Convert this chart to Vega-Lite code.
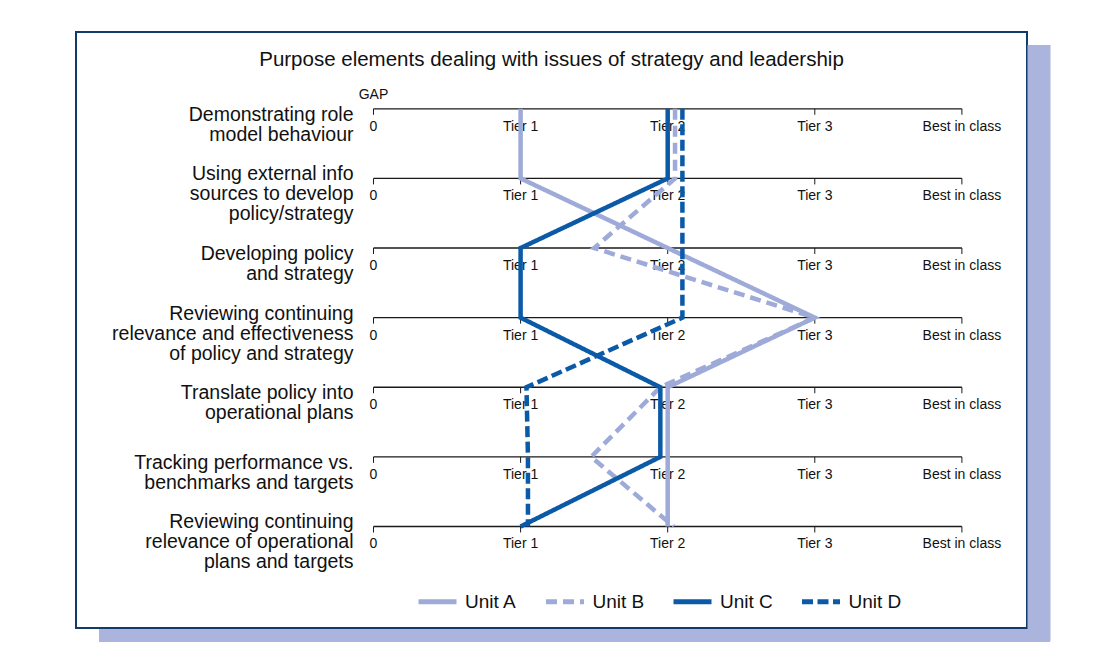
{
  "$schema": "https://vega.github.io/schema/vega-lite/v6.json",
  "width": 951,
  "height": 596,
  "autosize": {"type": "none"},
  "padding": {"left": 76, "top": 32, "right": 91, "bottom": 33},
  "background": "white",
  "config": {
    "font": "Liberation Sans",
    "view": {"stroke": "#123a6b", "strokeWidth": 2, "fill": "white"}
  },
  "title": {
    "text": "Purpose elements dealing with issues of strategy and leadership",
    "fontSize": 20.5,
    "fontWeight": "normal",
    "font": "Liberation Sans",
    "color": "#111111",
    "anchor": "middle",
    "offset": -38
  },
  "datasets": {
    "rows": [
      {"r": 1, "n": 2, "label": "Demonstrating role\nmodel behaviour"},
      {"r": 2, "n": 3, "label": "Using external info\nsources to develop\npolicy/strategy"},
      {"r": 3, "n": 2, "label": "Developing policy\nand strategy"},
      {"r": 4, "n": 3, "label": "Reviewing continuing\nrelevance and effectiveness\nof policy and strategy"},
      {"r": 5, "n": 2, "label": "Translate policy into\noperational plans"},
      {"r": 6, "n": 2, "label": "Tracking performance vs.\nbenchmarks and targets"},
      {"r": 7, "n": 3, "label": "Reviewing continuing\nrelevance of operational\nplans and targets"}
    ],
    "ticks": [
      {"r": 1, "tv": 0, "tl": "0"}, {"r": 1, "tv": 1, "tl": "Tier 1"}, {"r": 1, "tv": 2, "tl": "Tier 2"}, {"r": 1, "tv": 3, "tl": "Tier 3"}, {"r": 1, "tv": 4, "tl": "Best in class"},
      {"r": 2, "tv": 0, "tl": "0"}, {"r": 2, "tv": 1, "tl": "Tier 1"}, {"r": 2, "tv": 2, "tl": "Tier 2"}, {"r": 2, "tv": 3, "tl": "Tier 3"}, {"r": 2, "tv": 4, "tl": "Best in class"},
      {"r": 3, "tv": 0, "tl": "0"}, {"r": 3, "tv": 1, "tl": "Tier 1"}, {"r": 3, "tv": 2, "tl": "Tier 2"}, {"r": 3, "tv": 3, "tl": "Tier 3"}, {"r": 3, "tv": 4, "tl": "Best in class"},
      {"r": 4, "tv": 0, "tl": "0"}, {"r": 4, "tv": 1, "tl": "Tier 1"}, {"r": 4, "tv": 2, "tl": "Tier 2"}, {"r": 4, "tv": 3, "tl": "Tier 3"}, {"r": 4, "tv": 4, "tl": "Best in class"},
      {"r": 5, "tv": 0, "tl": "0"}, {"r": 5, "tv": 1, "tl": "Tier 1"}, {"r": 5, "tv": 2, "tl": "Tier 2"}, {"r": 5, "tv": 3, "tl": "Tier 3"}, {"r": 5, "tv": 4, "tl": "Best in class"},
      {"r": 6, "tv": 0, "tl": "0"}, {"r": 6, "tv": 1, "tl": "Tier 1"}, {"r": 6, "tv": 2, "tl": "Tier 2"}, {"r": 6, "tv": 3, "tl": "Tier 3"}, {"r": 6, "tv": 4, "tl": "Best in class"},
      {"r": 7, "tv": 0, "tl": "0"}, {"r": 7, "tv": 1, "tl": "Tier 1"}, {"r": 7, "tv": 2, "tl": "Tier 2"}, {"r": 7, "tv": 3, "tl": "Tier 3"}, {"r": 7, "tv": 4, "tl": "Best in class"}
    ],
    "units": [
      {"unit": "Unit A", "r": 1, "value": 1.0},
      {"unit": "Unit A", "r": 2, "value": 1.0},
      {"unit": "Unit A", "r": 3, "value": 2.0},
      {"unit": "Unit A", "r": 4, "value": 3.0},
      {"unit": "Unit A", "r": 5, "value": 2.0},
      {"unit": "Unit A", "r": 6, "value": 2.0},
      {"unit": "Unit A", "r": 7, "value": 2.0},
      {"unit": "Unit B", "r": 1, "value": 2.05},
      {"unit": "Unit B", "r": 2, "value": 2.05},
      {"unit": "Unit B", "r": 3, "value": 1.5},
      {"unit": "Unit B", "r": 4, "value": 3.0},
      {"unit": "Unit B", "r": 5, "value": 1.95},
      {"unit": "Unit B", "r": 6, "value": 1.48},
      {"unit": "Unit B", "r": 7, "value": 2.04},
      {"unit": "Unit C", "r": 1, "value": 2.0},
      {"unit": "Unit C", "r": 2, "value": 2.0},
      {"unit": "Unit C", "r": 3, "value": 1.0},
      {"unit": "Unit C", "r": 4, "value": 1.0},
      {"unit": "Unit C", "r": 5, "value": 1.95},
      {"unit": "Unit C", "r": 6, "value": 1.95},
      {"unit": "Unit C", "r": 7, "value": 1.0},
      {"unit": "Unit D", "r": 1, "value": 2.1},
      {"unit": "Unit D", "r": 2, "value": 2.1},
      {"unit": "Unit D", "r": 3, "value": 2.1},
      {"unit": "Unit D", "r": 4, "value": 2.1},
      {"unit": "Unit D", "r": 5, "value": 1.04},
      {"unit": "Unit D", "r": 6, "value": 1.05},
      {"unit": "Unit D", "r": 7, "value": 1.05}
    ],
    "gap": [{"t": "GAP"}]
  },
  "layer": [
    {
      "data": {"name": "rows"},
      "mark": {"type": "rule", "color": "#1a1a1a", "strokeWidth": 1.3},
      "encoding": {
        "x": {
          "datum": 0,
          "type": "quantitative",
          "scale": {"domain": [-2.0224, 4.4426], "nice": false, "zero": false},
          "axis": {
            "orient": "bottom",
            "title": null,
            "labels": false,
            "ticks": false,
            "grid": false,
            "domain": true,
            "domainColor": "#aab4dc",
            "domainWidth": 13,
            "translate": 23,
            "offset": -15.5
          }
        },
        "x2": {"datum": 4},
        "y": {
          "field": "r",
          "type": "quantitative",
          "scale": {"domain": [-0.103, 8.458], "nice": false, "zero": false, "reverse": true},
          "axis": {
            "orient": "right",
            "title": null,
            "labels": false,
            "ticks": false,
            "grid": false,
            "domain": true,
            "domainColor": "#aab4dc",
            "domainWidth": 23,
            "translate": 13,
            "offset": -1
          }
        }
      }
    },
    {
      "data": {"name": "ticks"},
      "mark": {"type": "point", "shape": "M0,0L0,1", "size": 144, "filled": false, "stroke": "#1a1a1a", "strokeWidth": 1, "opacity": 1},
      "encoding": {
        "x": {"field": "tv", "type": "quantitative"},
        "y": {"field": "r", "type": "quantitative"}
      }
    },
    {
      "data": {"name": "ticks"},
      "mark": {"type": "text", "fontSize": 14, "dy": 18, "baseline": "middle", "align": "center", "color": "#111111"},
      "encoding": {
        "x": {"field": "tv", "type": "quantitative"},
        "y": {"field": "r", "type": "quantitative"},
        "text": {"field": "tl", "type": "nominal"}
      }
    },
    {
      "data": {"name": "rows"},
      "transform": [{"filter": {"field": "n", "equal": 2}}],
      "mark": {"type": "text", "fontSize": 19.5, "lineHeight": 20, "lineBreak": "\n", "align": "right", "baseline": "middle", "dx": -20, "dy": 6, "color": "#111111"},
      "encoding": {
        "x": {"datum": 0, "type": "quantitative"},
        "y": {"field": "r", "type": "quantitative"},
        "text": {"field": "label", "type": "nominal"}
      }
    },
    {
      "data": {"name": "rows"},
      "transform": [{"filter": {"field": "n", "equal": 3}}],
      "mark": {"type": "text", "fontSize": 19.5, "lineHeight": 20, "lineBreak": "\n", "align": "right", "baseline": "middle", "dx": -20, "dy": -4, "color": "#111111"},
      "encoding": {
        "x": {"datum": 0, "type": "quantitative"},
        "y": {"field": "r", "type": "quantitative"},
        "text": {"field": "label", "type": "nominal"}
      }
    },
    {
      "data": {"name": "gap"},
      "mark": {"type": "text", "fontSize": 14, "align": "center", "baseline": "middle", "dy": -14, "color": "#111111"},
      "encoding": {
        "x": {"datum": 0, "type": "quantitative"},
        "y": {"datum": 1, "type": "quantitative"},
        "text": {"field": "t", "type": "nominal"}
      }
    },
    {
      "data": {"name": "units"},
      "mark": {"type": "line", "strokeWidth": 4.5, "strokeJoin": "miter", "strokeCap": "butt"},
      "encoding": {
        "x": {"field": "value", "type": "quantitative"},
        "y": {"field": "r", "type": "quantitative"},
        "order": {"field": "r", "type": "quantitative"},
        "color": {
          "field": "unit",
          "type": "nominal",
          "scale": {"domain": ["Unit A", "Unit B", "Unit C", "Unit D"], "range": ["#9eaad8", "#9eaad8", "#0b5aa8", "#0b5aa8"]},
          "legend": {
            "title": null,
            "orient": "none",
            "direction": "horizontal",
            "legendX": 340,
            "legendY": 548,
            "padding": 0,
            "symbolType": "stroke",
            "symbolSize": 1444,
            "symbolStrokeWidth": 5,
            "labelFontSize": 19,
            "labelFont": "Liberation Sans",
            "labelColor": "#111111",
            "labelOffset": 6,
            "columnPadding": 18.5
          }
        },
        "strokeDash": {
          "field": "unit",
          "type": "nominal",
          "scale": {"domain": ["Unit A", "Unit B", "Unit C", "Unit D"], "range": [[1, 0], [11, 6], [1, 0], [11, 4.5]]},
          "legend": {
            "title": null,
            "orient": "none",
            "direction": "horizontal",
            "legendX": 340,
            "legendY": 548,
            "padding": 0,
            "symbolType": "stroke",
            "symbolSize": 1444,
            "symbolStrokeWidth": 5,
            "labelFontSize": 19,
            "labelFont": "Liberation Sans",
            "labelColor": "#111111",
            "labelOffset": 6,
            "columnPadding": 18.5
          }
        }
      }
    }
  ]
}
